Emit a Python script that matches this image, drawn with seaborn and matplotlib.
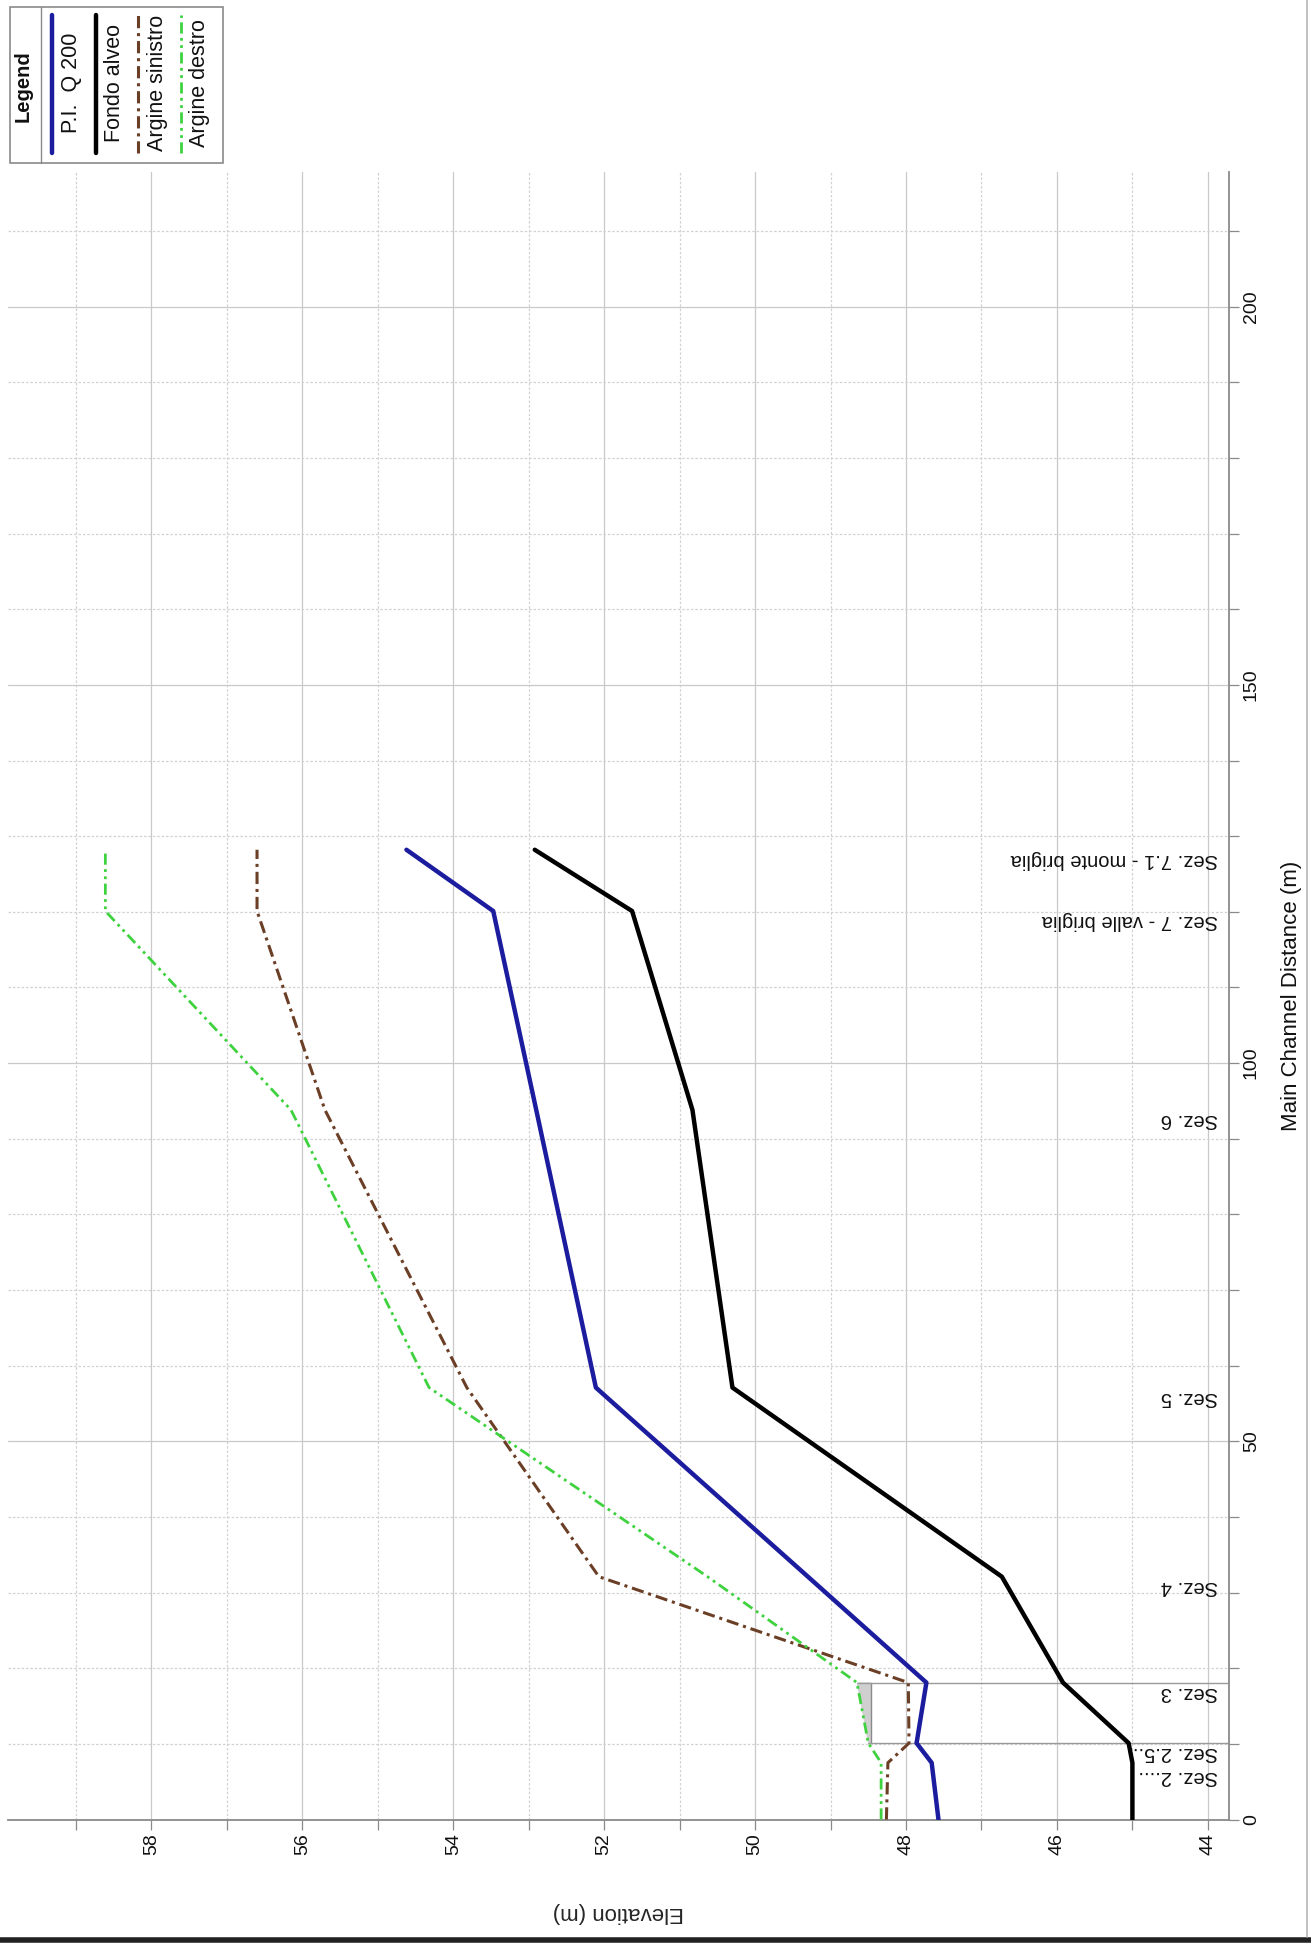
import matplotlib
matplotlib.use("Agg")
import matplotlib.pyplot as plt
import seaborn as sns
import numpy as np
import pandas as pd
from matplotlib.lines import Line2D
from matplotlib.patches import Rectangle
from matplotlib.ticker import MultipleLocator

# ---------------- data ----------------
distance = [0, 7.5, 10.1, 18.1, 32.1, 57.1, 93.8, 120.1, 128.2]
wse_q200 = [47.57, 47.66, 47.86, 47.73, 49.30, 52.11, 52.90, 53.47, 54.62]
fondo_alveo = [45.00, 45.00, 45.05, 45.92, 46.73, 50.30, 50.83, 51.63, 52.92]
argine_sinistro = [48.26, 48.24, 47.96, 47.97, 52.07, 53.82, 55.70, 56.60, 56.60]
argine_destro = [48.33, 48.33, 48.50, 48.65, 50.63, 54.32, 56.15, 58.61, 58.61]

section_names = ["Sez. 2....", "Sez. 2.5..", "Sez. 3", "Sez. 4", "Sez. 5",
                 "Sez. 6", "Sez. 7 - valle briglia", "Sez. 7.1 - monte briglia"]
section_dist = [7.0, 10.1, 18.1, 32.1, 57.1, 93.8, 120.1, 128.2]

# structure between Sez. 2.5 and Sez. 3
struct_dist = [10.1, 18.1]
struct_bank = [48.50, 48.65]
struct_edge = [48.47, 48.47]

legend_labels = ["P.I.  Q 200", "Fondo alveo", "Argine sinistro", "Argine destro"]

elev_ticks = [44, 46, 48, 50, 52, 54, 56, 58]
dist_ticks = [0, 50, 100, 150, 200]

# ---------------- styling ----------------
sns.set_theme(style="white")
plt.rcParams["font.family"] = ["Liberation Sans", "DejaVu Sans"]

W, H = 1311, 1944
fig = plt.figure(figsize=(W / 100, H / 100), dpi=100)


def fx(px):
    return px / W


def fy(py):
    return 1 - py / H


ax = fig.add_axes([fx(8), fy(1819.5), fx(1229) - fx(8), fy(172) - fy(1819.5)])

XL, XR = 59.9, 43.72
ax.set_xlim(XL, XR)
ax.set_ylim(0, 217.8)

colors = {"wse": "#1c1c9e", "bed": "#000000", "sx": "#6b3e26", "dx": "#3fd23f"}
styles = {
    "wse": dict(lw=3.2, linestyle="-"),
    "bed": dict(lw=3.2, linestyle="-"),
    "sx": dict(lw=2.2, linestyle=(0, (4, 1.6, 1, 1.6))),
    "dx": dict(lw=2.0, linestyle=(0, (4, 1.6, 1, 1.6, 1, 1.6))),
}

# grid
ax.xaxis.set_major_locator(MultipleLocator(2))
ax.xaxis.set_minor_locator(MultipleLocator(1))
ax.yaxis.set_major_locator(MultipleLocator(50))
ax.yaxis.set_minor_locator(MultipleLocator(10))
ax.grid(which="major", color="#c9c9c9", lw=0.9, ls="-", zorder=0)
ax.grid(which="minor", color="#d2d2d2", lw=0.9, ls=(0, (2, 1.5)), zorder=0)
ax.set_axisbelow(True)

# structure
ax.fill_betweenx(struct_dist, struct_bank, struct_edge, color="#cfcfcf", zorder=2)
ax.plot(struct_edge, struct_dist, color="#8a8a8a", lw=1.0, zorder=2)
ax.hlines(struct_dist, xmin=struct_bank, xmax=XR, color="#9a9a9a", lw=1.0, zorder=2)

# profile lines
series = [("wse", wse_q200), ("bed", fondo_alveo), ("sx", argine_sinistro), ("dx", argine_destro)]
for key, vals in series:
    df = pd.DataFrame({"elev": vals, "dist": distance})
    sns.lineplot(data=df, x="elev", y="dist", orient="y", sort=False, estimator=None,
                 color=colors[key], ax=ax, zorder=4, **styles[key])

# section labels
for name, d in zip(section_names, section_dist):
    ax.text(43.87, d, name, rotation=180, rotation_mode="anchor", ha="left", va="bottom",
            fontsize=14.5, color="#111111", zorder=5)

# axes, ticks
ax.yaxis.tick_right()
ax.set_xticks(elev_ticks)
ax.set_yticks(dist_ticks)
ax.tick_params(axis="both", which="both", direction="out", color="#8a8a8a", width=0.9,
               length=7, labelsize=14, labelcolor="#111111", pad=3)
ax.tick_params(axis="x", which="major", labelrotation=90, bottom=True, top=False)
ax.tick_params(axis="x", which="minor", bottom=True)
ax.tick_params(axis="y", which="both", labelrotation=90, right=True, left=False)
for lbl in ax.get_yticklabels():
    lbl.set_va("center")

for s in ["top", "left"]:
    ax.spines[s].set_visible(False)
for s in ["bottom", "right"]:
    ax.spines[s].set_color("#8a8a8a")
    ax.spines[s].set_linewidth(1.3)

ax.set_xlabel("Elevation (m)", fontsize=16, rotation=180)
ax.xaxis.set_label_coords(fx(618), fy(1912), transform=fig.transFigure)
ax.xaxis.label.set_va("center")
ax.set_ylabel("")
fig.text(fx(1292), fy(996), "Main Channel Distance (m)", rotation=90, fontsize=16,
         ha="center", va="center", color="#111111")

# ---------------- legend (drawn rotated like the rest) ----------------
fig.add_artist(Rectangle((fx(10), fy(163)), fx(223) - fx(10), fy(7) - fy(163),
                         transform=fig.transFigure, fill=False, edgecolor="#8a8a8a", lw=1.2))
fig.add_artist(Line2D([fx(41), fx(41)], [fy(7), fy(163)], transform=fig.transFigure,
                      color="#8a8a8a", lw=1.0))
fig.text(fx(23), fy(86), "Legend", rotation=90, fontsize=14.5, fontweight="bold",
         ha="center", va="center", color="#111111")
leg_line_x = [52, 96, 138, 181]
leg_text_x = [71, 114, 157, 200]
for key, lab, lx, tx in zip(["wse", "bed", "sx", "dx"], legend_labels, leg_line_x, leg_text_x):
    st = dict(styles[key])
    fig.add_artist(Line2D([fx(lx), fx(lx)], [fy(153), fy(15)], transform=fig.transFigure,
                          color=colors[key], **st))
    fig.text(fx(tx), fy(83), lab, rotation=90, fontsize=15.5, ha="center", va="center",
             color="#111111")

# image border lines
fig.add_artist(Line2D([0, 1], [fy(1940), fy(1940)], transform=fig.transFigure,
                      color="#222222", lw=4))
fig.add_artist(Line2D([fx(1307), fx(1307)], [fy(0), fy(1937)], transform=fig.transFigure,
                      color="#b5b5b5", lw=1.2))

fig.savefig("out.png", dpi=100)
